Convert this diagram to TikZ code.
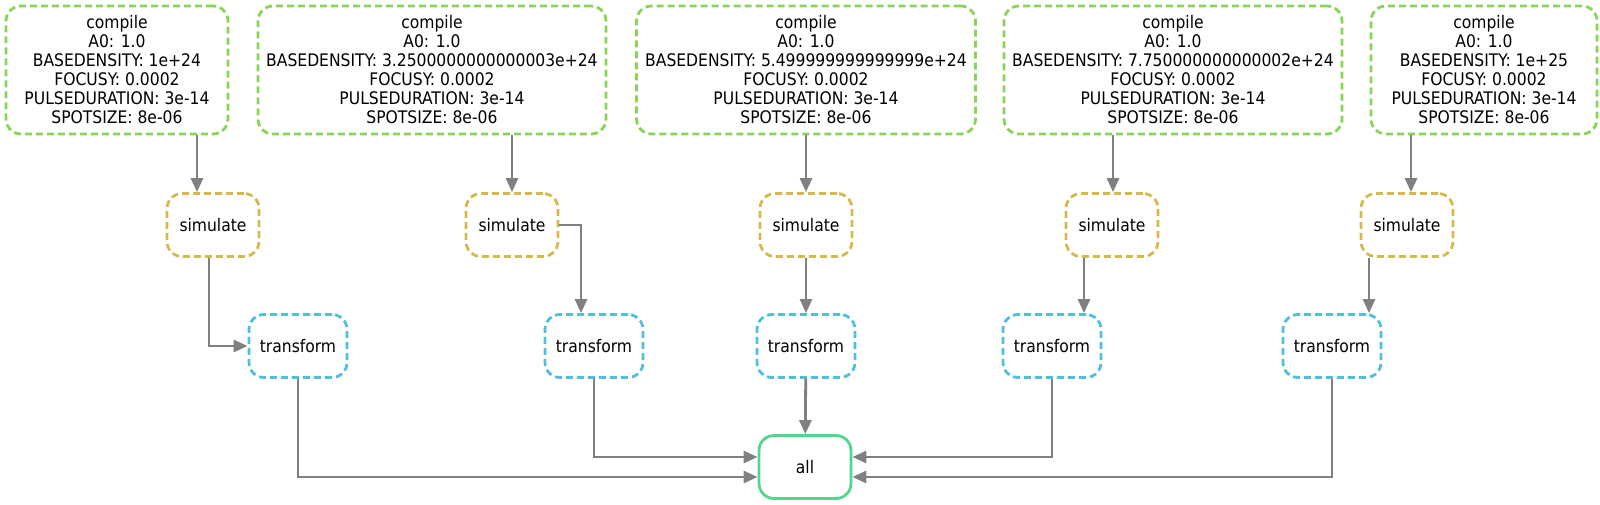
\documentclass[tikz,border=0pt]{standalone}
\usepackage{fontspec}
\setmainfont{DejaVu Sans Condensed}
\usetikzlibrary{arrows.meta}
\definecolor{cgreen}{HTML}{88D456}
\definecolor{cyel}{HTML}{D6B94C}
\definecolor{cblue}{HTML}{4FC0D8}
\definecolor{call}{HTML}{52D68C}
\begin{document}
\begin{tikzpicture}[x=1pt,y=-1pt,
 box/.style={draw,line width=2.8pt,rounded corners=15pt,align=center,inner sep=0pt,font=\fontsize{17.3}{19}\selectfont},
 dsh/.style={dash pattern=on 7pt off 4pt},
 cbox/.style={box,dsh,draw=cgreen,minimum height=128pt},
 sbox/.style={box,dsh,draw=cyel,minimum width=92pt,minimum height=63pt},
 tbox/.style={box,dsh,draw=cblue,minimum width=98pt,minimum height=63pt},
 edge/.style={draw=gray,line width=2.8pt,-{Triangle[length=14pt,width=12pt]}}]
\useasboundingbox (0,0) rectangle (1600,504);
\node[cbox,minimum width=222pt] (c1) at (117,70) {compile\\A0: 1.0\\BASEDENSITY: 1e+24\\FOCUSY: 0.0002\\PULSEDURATION: 3e-14\\SPOTSIZE: 8e-06};
\node[cbox,minimum width=348pt] (c2) at (432,70) {compile\\A0: 1.0\\BASEDENSITY: 3.2500000000000003e+24\\FOCUSY: 0.0002\\PULSEDURATION: 3e-14\\SPOTSIZE: 8e-06};
\node[cbox,minimum width=339pt] (c3) at (806,70) {compile\\A0: 1.0\\BASEDENSITY: 5.499999999999999e+24\\FOCUSY: 0.0002\\PULSEDURATION: 3e-14\\SPOTSIZE: 8e-06};
\node[cbox,minimum width=338pt] (c4) at (1173,70) {compile\\A0: 1.0\\BASEDENSITY: 7.750000000000002e+24\\FOCUSY: 0.0002\\PULSEDURATION: 3e-14\\SPOTSIZE: 8e-06};
\node[cbox,minimum width=226pt] (c5) at (1484,70) {compile\\A0: 1.0\\BASEDENSITY: 1e+25\\FOCUSY: 0.0002\\PULSEDURATION: 3e-14\\SPOTSIZE: 8e-06};
\node[sbox] (s1) at (213,225) {simulate};
\node[sbox] (s2) at (512,225) {simulate};
\node[sbox] (s3) at (806,225) {simulate};
\node[sbox] (s4) at (1112,225) {simulate};
\node[sbox] (s5) at (1407,225) {simulate};
\node[tbox] (t1) at (298,346) {transform};
\node[tbox] (t2) at (594,346) {transform};
\node[tbox] (t3) at (806,346) {transform};
\node[tbox] (t4) at (1052,346) {transform};
\node[tbox] (t5) at (1332,346) {transform};
\node[box,draw=call,minimum width=92pt,minimum height=63pt] (all) at (805,467) {all};
\draw[edge] (c1.south -| 197,0) -- (s1.north -| 197,0);
\draw[edge] (c2.south -| 512,0) -- (s2.north -| 512,0);
\draw[edge] (c3) -- (s3);
\draw[edge] (c4.south -| 1113,0) -- (s4.north -| 1113,0);
\draw[edge] (c5.south -| 1411,0) -- (s5.north -| 1411,0);
\draw[edge] (s1.south -| 209,0) |- (t1.west);
\draw[edge] (s2.east) -| (t2.north -| 581,0);
\draw[edge] (s3) -- (t3);
\draw[edge] (s4.south -| 1084,0) -- (t4.north -| 1084,0);
\draw[edge] (s5.south -| 1369,0) -- (t5.north -| 1369,0);
\draw[edge] (t1.south) |- (all.west |- 0,477);
\draw[edge] (t2.south) |- (all.west |- 0,457);
\draw[edge] (t3) -- (all);
\draw[edge] (t4.south) |- (all.east |- 0,457);
\draw[edge] (t5.south) |- (all.east |- 0,477);
\end{tikzpicture}
\end{document}
